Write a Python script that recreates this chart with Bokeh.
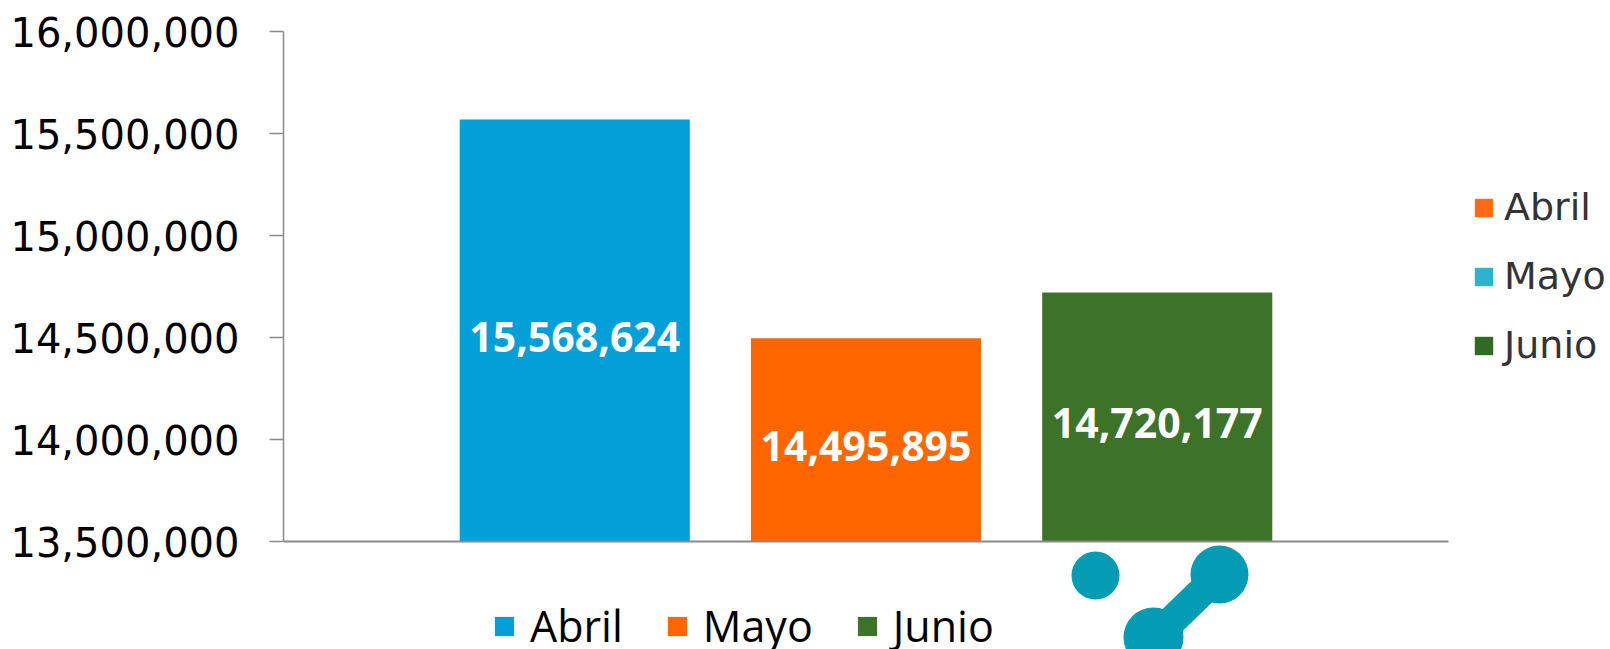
from bokeh.plotting import figure
from bokeh.models import (Range1d, FixedTicker, NumeralTickFormatter, ColumnDataSource,
                          Legend, LegendItem, BoxAnnotation, PolyAnnotation)
from bokeh.embed import file_html
from bokeh.resources import INLINE
from bokeh.core.properties import value

# ---- data ----
months = ["Abril", "Mayo", "Junio"]
visitors = [15568624, 14495895, 14720177]
value_labels = ["15,568,624", "14,495,895", "14,720,177"]
bar_colors = ["#029FD8", "#FF6600", "#3D7328"]
y_ticks = [13500000, 14000000, 14500000, 15000000, 15500000, 16000000]
y_min, y_max = 13500000, 16000000
side_legend_names = ["Abril", "Mayo", "Junio"]
side_legend_colors = ["#FF6A13", "#2BB4CC", "#2F6B22"]
logo_text = "coaace"
logo_color = "#049BB5"

W, H = 1610, 649
LEFT, TOP = 283, 31
AXIS_PX = 510      # pixel height of the 13.5M..16M axis
CAT_PX = 1165      # pixel width of the category axis 0..4
frame_h = H - TOP
frame_w = W - LEFT
y_lo = y_max - (y_max - y_min) * frame_h / AXIS_PX
x_hi = 4 * frame_w / CAT_PX

p = figure(width=W, height=H, output_backend="svg", toolbar_location=None,
           x_range=Range1d(0, x_hi), y_range=Range1d(y_lo, y_max),
           min_border_left=LEFT, min_border_right=0, min_border_top=TOP,
           min_border_bottom=0)
p.outline_line_color = None
p.grid.visible = False
p.background_fill_color = "white"
p.border_fill_color = "white"

xs = list(range(1, len(months) + 1))
src = ColumnDataSource(dict(x=xs, top=visitors, color=bar_colors, label=value_labels,
                            mid=[(y_min + v) / 2 for v in visitors], name=months))

bars = p.vbar(x="x", top="top", bottom=y_min, width=0.79, fill_color="color",
              line_color=None, source=src)

p.text(x="x", y="mid", text="label", source=src, text_color="white",
       text_font=value("Open Sans"), text_font_style="bold", text_font_size="41px",
       text_align="center", text_baseline="middle", y_offset=6)

# axes
p.yaxis.ticker = FixedTicker(ticks=y_ticks)
p.yaxis.bounds = (y_min, y_max)
p.yaxis.formatter = NumeralTickFormatter(format="0,0")
p.yaxis.axis_line_color = "#8a8a8a"
p.yaxis.axis_line_width = 1.5
p.yaxis.major_tick_line_color = "#8a8a8a"
p.yaxis.major_tick_line_width = 1.5
p.yaxis.major_tick_out = 14
p.yaxis.major_tick_in = 0
p.yaxis.minor_tick_line_color = None
p.yaxis.major_label_text_font = "DejaVu Sans"
p.yaxis.major_label_text_font_size = "40px"
p.yaxis.major_label_text_color = "black"
p.yaxis.major_label_standoff = 30

p.xaxis.fixed_location = y_min
p.xaxis.bounds = (0, 4)
p.xaxis.ticker = FixedTicker(ticks=[])
p.xaxis.axis_line_color = "#8a8a8a"
p.xaxis.axis_line_width = 2
p.xaxis.major_tick_line_color = None
p.xaxis.minor_tick_line_color = None
p.xaxis.major_label_text_font_size = "0px"

# bottom legend
bottom_legend = Legend(
    items=[LegendItem(label=m, renderers=[bars], index=i) for i, m in enumerate(months)],
    orientation="horizontal", location=(209, -6),
    glyph_width=24, glyph_height=24, label_height=24, label_standoff=14, spacing=42,
    padding=0, margin=0, border_line_color=None, background_fill_alpha=0,
    label_text_font="Open Sans", label_text_font_size="43px", label_text_color="black")
p.add_layout(bottom_legend, "center")

# side legend: swatch-only renderers placed outside the visible x range
side_src = ColumnDataSource(dict(x=[x_hi + 10] * len(side_legend_names),
                                 y=[y_min] * len(side_legend_names),
                                 color=side_legend_colors, name=side_legend_names))
swatches = p.rect(x="x", y="y", width=0.1, height=1, fill_color="color",
                  line_color=None, source=side_src)
side_legend = Legend(
    items=[LegendItem(label=n, renderers=[swatches], index=i)
           for i, n in enumerate(side_legend_names)],
    orientation="vertical", location=(1189, 282),
    glyph_width=23, glyph_height=23, label_height=23, label_standoff=9, spacing=25,
    padding=0, margin=0, border_line_color=None, background_fill_alpha=0,
    label_text_font="DejaVu Sans", label_text_font_size="38px", label_text_color="#333333")
p.add_layout(side_legend, "center")

# logo decoration (screen units, relative to the frame)
for l, r_, t, b in [(788, 836, 98, 50), (907, 965, 104, 46), (840, 900, 42, -18)]:
    p.add_layout(BoxAnnotation(left=l, right=r_, top=t, bottom=b,
                               left_units="screen", right_units="screen",
                               top_units="screen", bottom_units="screen",
                               fill_color=logo_color, fill_alpha=1, line_color=None,
                               border_radius=int((r_ - l) // 2)))
p.add_layout(PolyAnnotation(xs=[946, 926, 860, 880], ys=[64, 86, 22, 0],
                            xs_units="screen", ys_units="screen",
                            fill_color=logo_color, fill_alpha=1, line_color=None))
# logo word: anchor kept inside the frame, baseline pushed below the edge by an offset
logo_px_x, logo_px_anchor = 1262, 620
logo_x = (logo_px_x - LEFT) * 4 / CAT_PX
logo_y = y_max - (logo_px_anchor - TOP) * (y_max - y_min) / AXIS_PX
p.text(x=[logo_x], y=[logo_y], text=[logo_text], text_font=value("Open Sans"),
       text_font_size="120px", text_color=logo_color, text_baseline="alphabetic",
       text_align="left", y_offset=69)

open("out.html", "w").write(file_html(p, INLINE))
